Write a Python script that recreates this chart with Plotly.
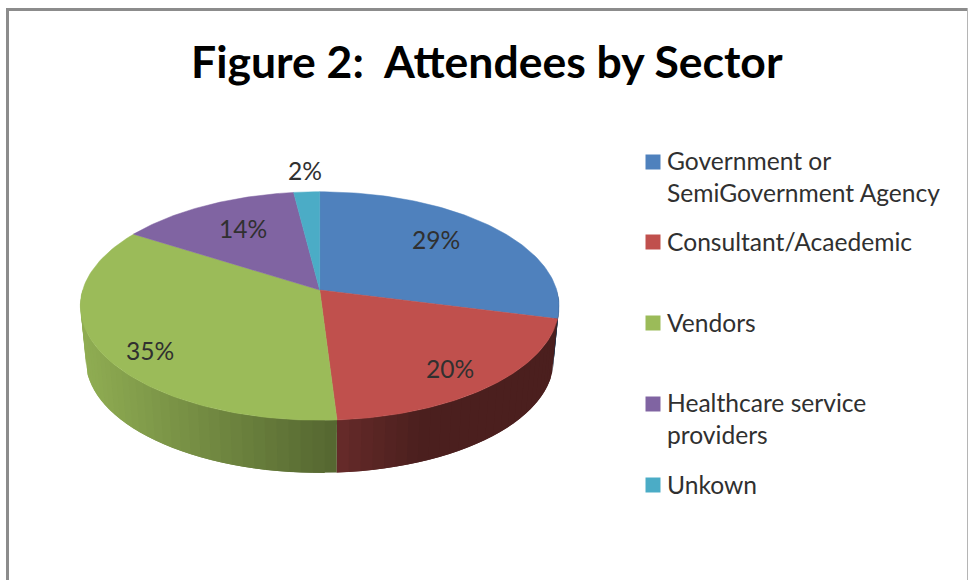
import numpy as np
import plotly.graph_objects as go

# Sector shares, in percent
categories = ["Government or<br>SemiGovernment Agency", "Consultant/Acaedemic", "Vendors",
              "Healthcare service<br>providers", "Unkown"]
shares = [29, 20, 35, 14, 2]
share_labels = ["29%", "20%", "35%", "14%", "2%"]
colors = ["#4f81bd", "#c0504d", "#9bbb59", "#8064a2", "#4bacc6"]
title_text = "Figure 2:\u00a0 Attendees by Sector"

FONT = "Lato"
TEXT = "#303030"

# Perspective projection of the unit disc onto the page (page pixels, y down)
TILT = 0.14
TOP_RING = dict(cx=319.7, cy=290.0, a=237.0, b=112.0)
BASE_RING = dict(cx=319.7, cy=345.0, a=231.5, b=110.0)

# Side-wall brightness as a function of horizontal position
SHADE_X = [85, 340, 345, 420, 560]
SHADE_F = [0.92, 0.54, 0.52, 0.39, 0.39]


def project(ring, angle):
    u, v = np.sin(angle), -np.cos(angle)
    w = 1 - TILT * v
    return ring["cx"] + ring["a"] * u / w, ring["cy"] + ring["b"] * v / w


def shaded(hex_color, x):
    f = np.interp(x, SHADE_X, SHADE_F)
    r, g, b = (int(hex_color[i:i + 2], 16) for i in (1, 3, 5))
    return f"rgb({r * f:.0f},{g * f:.0f},{b * f:.0f})"


edges = np.cumsum([0] + shares) / sum(shares) * 2 * np.pi
fig = go.Figure()

# Side wall: shaded strips painted in order, each overlapping the next so no seams show
for i, (start, stop) in enumerate(zip(edges[:-1], edges[1:])):
    lo, hi = max(start, np.radians(90)), min(stop, np.radians(270))
    if lo >= hi:
        continue
    steps = max(2, int(np.degrees(hi - lo) / 2.5) + 1)
    t = np.linspace(lo, hi, steps)
    for a0, a1 in zip(t[:-1], t[1:]):
        arc = np.linspace(a0, hi if a1 == t[-1] else min(hi, a1 + (t[1] - t[0])), 6)
        xt, yt = project(TOP_RING, arc)
        xb, yb = project(BASE_RING, arc[::-1])
        color = shaded(colors[i], (project(TOP_RING, a0)[0] + project(TOP_RING, a1)[0]) / 2)
        fig.add_trace(go.Scatter(
            x=np.r_[xt, xb, xt[0]], y=np.r_[yt, yb, yt[0]], mode="lines",
            fill="toself", fillcolor=color, line=dict(width=0),
            hoverinfo="skip", showlegend=False))

# Top face of each slice
for i, (start, stop) in enumerate(zip(edges[:-1], edges[1:])):
    t = np.linspace(start, stop, 90)
    px, py = project(TOP_RING, t)
    fig.add_trace(go.Scatter(
        x=np.r_[TOP_RING["cx"], px, TOP_RING["cx"]],
        y=np.r_[TOP_RING["cy"], py, TOP_RING["cy"]],
        mode="lines", fill="toself", fillcolor=colors[i],
        line=dict(color=colors[i], width=0.5),
        name=categories[i].replace("<br>", " "),
        text=share_labels[i], hoverinfo="name+text", showlegend=False))

# Legend keys
key_x = [653] * 5
key_y = [162, 242, 323, 404, 485]
fig.add_trace(go.Scatter(
    x=key_x, y=key_y, mode="markers",
    marker=dict(symbol="square", size=15, color=colors, line=dict(width=0)),
    hoverinfo="skip", showlegend=False))

annotations = []
first_line_offset = [15.6, 0, 0, 15.6, 0]
for label, y, off in zip(categories, key_y, first_line_offset):
    annotations.append(dict(x=665, y=y + off - 1, text=label, xref="x", yref="y", showarrow=False,
                            xanchor="left", yanchor="middle", align="left",
                            font=dict(family=FONT, size=24.6, color=TEXT)))

# Percentage labels on the slices
label_x = [436, 450, 150, 243, 305]
label_y = [239, 368, 350, 228, 170]
for text, x, y in zip(share_labels, label_x, label_y):
    annotations.append(dict(x=x, y=y, text=text, xref="x", yref="y", showarrow=False,
                            xanchor="center", yanchor="middle",
                            font=dict(family=FONT, size=24.6, color=TEXT)))

annotations.append(dict(x=487, y=60, text=f"<b>{title_text}</b>", xref="x", yref="y",
                        showarrow=False, xanchor="center", yanchor="middle",
                        font=dict(family=FONT, size=44.5, color="#000000")))

# Chart frame: heavy on the left and top, hairline on the right
frame = [
    dict(type="line", xref="x", yref="y", x0=7.5, x1=7.5, y0=8, y1=580,
         line=dict(color="#8c8c8c", width=3)),
    dict(type="line", xref="x", yref="y", x0=6, x1=967, y0=9.5, y1=9.5,
         line=dict(color="#8c8c8c", width=3)),
    dict(type="line", xref="x", yref="y", x0=967.5, x1=967.5, y0=8, y1=580,
         line=dict(color="#b5b5b5", width=1)),
]

fig.update_layout(
    width=968, height=580, margin=dict(l=0, r=0, t=0, b=0),
    paper_bgcolor="white", plot_bgcolor="white", showlegend=False,
    xaxis=dict(range=[0, 968], visible=False, fixedrange=True),
    yaxis=dict(range=[580, 0], visible=False, fixedrange=True),
    annotations=annotations, shapes=frame,
)

fig.write_html("out.html")
